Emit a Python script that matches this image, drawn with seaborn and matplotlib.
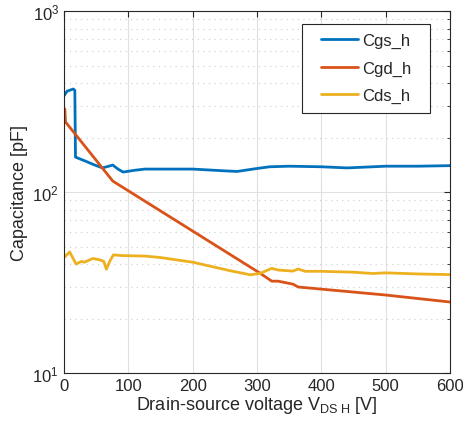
import numpy as np
import pandas as pd
import matplotlib
matplotlib.use("Agg")
import matplotlib.pyplot as plt
import seaborn as sns
from matplotlib.ticker import LogLocator, NullFormatter
from matplotlib.offsetbox import HPacker, DrawingArea

cgs_v = [0, 5, 14.5, 17, 18, 32, 48, 60, 76, 84, 92, 110, 126, 150, 200, 250,
         269, 300, 320, 350, 400, 440, 500, 550, 600]
cgs = [340, 361, 371, 365, 156, 149, 141, 136, 141, 134, 129, 132, 134, 134, 134, 131,
       130, 135, 138, 139, 138, 136, 139, 139, 140]

cgd_v = [1.5, 2.5, 76, 305, 323, 333, 356, 364, 400, 500, 600]
cgd = [288, 244, 115, 35.6, 32.2, 32.2, 31.0, 29.9, 29.1, 27.0, 24.7]

cds_v = [0, 1, 9, 19, 27, 32, 45, 56, 62, 66, 72, 77, 90, 126, 150, 175, 200, 258,
         290, 305, 323, 333, 356, 364, 375, 400, 450, 480, 500, 550, 600]
cds = [45.4, 43.7, 46.7, 40, 41.4, 41, 43, 42.2, 41.4, 37.5, 42, 45, 44.6, 44.3, 43.5,
       42.2, 41, 36.8, 34.9, 35.6, 37.9, 37.1, 36.6, 37.6, 36.5, 36.5, 36.1, 35.5, 35.8,
       35.3, 35.0]

names = ["Cgs_h", "Cgd_h", "Cds_h"]
colors = ["#0072BD", "#D95319", "#EDB120"]

df = pd.concat([
    pd.DataFrame({"V": cgs_v, "C": cgs, "name": names[0]}),
    pd.DataFrame({"V": cgd_v, "C": cgd, "name": names[1]}),
    pd.DataFrame({"V": cds_v, "C": cds, "name": names[2]}),
])

sns.set_style("white")
plt.rcParams["font.family"] = ["Liberation Sans", "DejaVu Sans"]
plt.rcParams["mathtext.fontset"] = "custom"
plt.rcParams["mathtext.rm"] = "Liberation Sans"
plt.rcParams["mathtext.it"] = "Liberation Sans:italic"

fig = plt.figure(figsize=(4.63, 4.31), dpi=100)
ax = fig.add_axes([0.138, 0.132, 0.834, 0.840])

sns.lineplot(data=df, x="V", y="C", hue="name", palette=dict(zip(names, colors)),
             sort=False, linewidth=2, ax=ax, legend=False)

ax.set_yscale("log")
ax.set_xlim(0, 600)
ax.set_ylim(10, 1000)
ax.set_xticks(range(0, 601, 100))
ax.yaxis.set_major_locator(LogLocator(base=10, numticks=5))
ax.yaxis.set_minor_locator(LogLocator(base=10, subs=np.arange(2, 10), numticks=20))
ax.yaxis.set_minor_formatter(NullFormatter())

ax.grid(True, which="major", color="#e0e0e0", linewidth=0.8, linestyle="-")
ax.grid(True, which="minor", axis="y", color="#cccccc", linewidth=0.8, linestyle=(0, (1, 4)))
ax.set_axisbelow(True)

ax.tick_params(which="both", direction="in", top=True, right=True, color="#262626",
               labelsize=12, labelcolor="#262626")
ax.tick_params(which="major", length=4)
ax.tick_params(which="minor", length=2.5)
for s in ax.spines.values():
    s.set_color("#262626")
    s.set_linewidth(0.8)

ax.set_xlabel(r"Drain-source voltage V$_{\mathregular{DS\ H}}$ [V]",
              fontsize=13, color="#262626", labelpad=1)
ax.set_ylabel("Capacitance [pF]", fontsize=13, color="#262626", labelpad=3)

handles = [plt.Line2D([], [], color=c, linewidth=2) for c in colors]
leg = ax.legend(handles, names, loc="upper right", bbox_to_anchor=(0.948, 0.964),
                borderaxespad=0, fontsize=12, frameon=True, fancybox=False,
                edgecolor="#262626", framealpha=1, handlelength=2.2, handletextpad=0.25,
                borderpad=0.55, labelspacing=0.74)
leg.get_frame().set_linewidth(0.8)

# extra side padding inside the legend box (MATLAB-like wide frame)
box = leg._legend_box
box._children[1] = HPacker(pad=0, sep=0, align="center",
                           children=[DrawingArea(7, 1), box._children[1], DrawingArea(7, 1)])

fig.savefig("out.png", dpi=100)
